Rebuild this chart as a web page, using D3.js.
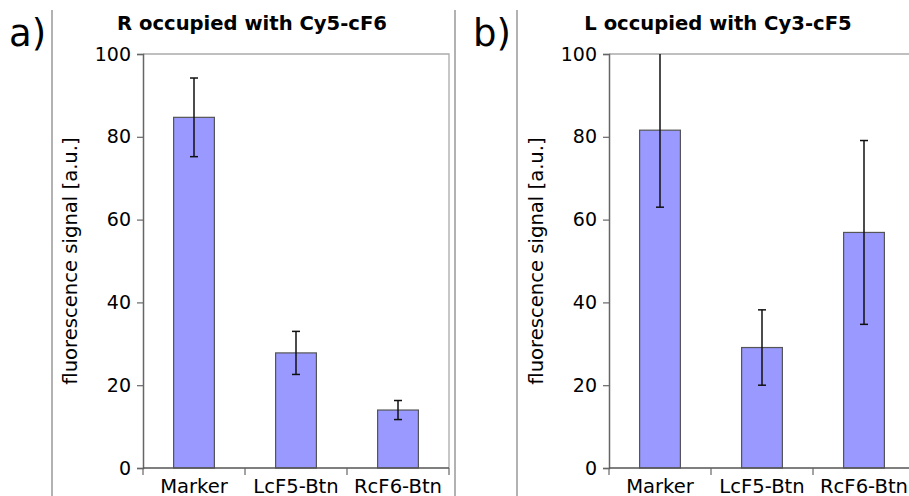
<!DOCTYPE html>
<html lang="en">
<head>
    <meta charset="UTF-8">
    <title>fluorescence signal</title>
    <script src="https://d3js.org/d3.v7.min.js"></script>
    <style>
        body { margin: 0; background: #fff; }
        svg text { font-family: "DejaVu Sans", sans-serif; fill: #000; }
    </style>
</head>
<body>
<svg width="909" height="496"></svg>
<script>
    // data
    var categories = ["Marker", "LcF5-Btn", "RcF6-Btn"];
    var yTicks = [0, 20, 40, 60, 80, 100];

    var titleA = "R occupied with Cy5-cF6";
    var valuesA = [84.7, 27.8, 14.0];
    var errorsA = [9.5, 5.2, 2.3];

    var titleB = "L occupied with Cy3-cF5";
    var valuesB = [81.6, 29.1, 56.9];
    var errorsB = [18.6, 9.1, 22.2];

    var yLabel = "fluorescence signal [a.u.]";

    var svg = d3.select("svg");

    // panel separators
    [52, 455, 517].forEach(function (x) {
        svg.append("line")
            .attr("x1", x).attr("x2", x)
            .attr("y1", 10).attr("y2", 496)
            .attr("stroke", "#999").attr("stroke-width", 1.5);
    });

    function drawPanel(tag, tagX, left, title, values, errors) {
        var top = 54, bottom = 468, width = 306;
        var g = svg.append("g");

        var x = d3.scaleBand()
            .domain(categories)
            .range([left, left + width])
            .paddingInner(0.6)
            .paddingOuter(0.3);
        var y = d3.scaleLinear().domain([0, 100]).range([bottom, top]);
        var cx = function (i) { return x(categories[i]) + x.bandwidth() / 2; };

        // panel letter
        g.append("text")
            .attr("x", tagX).attr("y", 46)
            .style("font-size", "37px")
            .text(tag);

        // title
        g.append("text")
            .attr("x", left + 109).attr("y", 30)
            .attr("text-anchor", "middle")
            .style("font-size", "19.6px")
            .style("font-weight", "bold")
            .text(title);

        // top and right frame
        g.append("path")
            .attr("d", "M" + left + "," + top + "H" + (left + width) + "V" + bottom)
            .attr("fill", "none")
            .attr("stroke", "#aaa").attr("stroke-width", 1.3);

        // bars
        g.selectAll("rect.bar")
            .data(values)
            .enter()
            .append("rect")
            .attr("class", "bar")
            .attr("x", function (d, i) { return x(categories[i]); })
            .attr("y", function (d) { return y(d); })
            .attr("width", x.bandwidth())
            .attr("height", function (d) { return bottom - y(d); })
            .attr("fill", "#9999ff")
            .attr("stroke", "#555")
            .attr("stroke-width", 1.2);

        // error bars (whisker clipped at 100, no cap there)
        var eb = g.selectAll("g.err")
            .data(values)
            .enter()
            .append("g")
            .attr("class", "err");
        eb.append("line")
            .attr("x1", function (d, i) { return cx(i); })
            .attr("x2", function (d, i) { return cx(i); })
            .attr("y1", function (d, i) { return y(Math.min(100, d + errors[i])); })
            .attr("y2", function (d, i) { return y(d - errors[i]); })
            .attr("stroke", "#111").attr("stroke-width", 1.5);
        eb.append("line")
            .attr("x1", function (d, i) { return cx(i) - 4; })
            .attr("x2", function (d, i) { return cx(i) + 4; })
            .attr("y1", function (d, i) { return y(d - errors[i]); })
            .attr("y2", function (d, i) { return y(d - errors[i]); })
            .attr("stroke", "#111").attr("stroke-width", 1.5);
        eb.append("line")
            .attr("x1", function (d, i) { return cx(i) - 4; })
            .attr("x2", function (d, i) { return cx(i) + 4; })
            .attr("y1", function (d, i) { return y(d + errors[i]); })
            .attr("y2", function (d, i) { return y(d + errors[i]); })
            .attr("stroke", function (d, i) { return d + errors[i] <= 100 ? "#111" : "none"; })
            .attr("stroke-width", 1.5);

        // y axis
        var ya = g.append("g")
            .attr("transform", "translate(" + left + ",0)")
            .call(d3.axisLeft(y).tickValues(yTicks).tickSize(6).tickPadding(6));
        ya.select(".domain").attr("stroke", "#666").attr("stroke-width", 1.5);
        ya.selectAll(".tick line").attr("stroke", "#666").attr("stroke-width", 1.2);
        ya.selectAll(".tick text")
            .style("font-size", "19px")
            .style("font-family", "DejaVu Sans")
            .attr("fill", "#000");

        // x axis: ticks on band edges
        var xa = g.append("g")
            .attr("transform", "translate(0," + bottom + ")");
        xa.append("line")
            .attr("x1", left).attr("x2", left + width)
            .attr("stroke", "#555").attr("stroke-width", 1.5);
        var edges = [0, 1, 2, 3].map(function (k) { return left + k * x.step(); });
        xa.selectAll("line.tk")
            .data(edges)
            .enter()
            .append("line")
            .attr("class", "tk")
            .attr("x1", function (d) { return d; })
            .attr("x2", function (d) { return d; })
            .attr("y1", 0).attr("y2", 7)
            .attr("stroke", "#666").attr("stroke-width", 1.2);
        xa.selectAll("text")
            .data(categories)
            .enter()
            .append("text")
            .attr("x", function (d) { return x(d) + x.bandwidth() / 2; })
            .attr("y", 25)
            .attr("text-anchor", "middle")
            .style("font-size", "19.6px")
            .text(function (d) { return d; });

        // y label
        g.append("text")
            .attr("transform", "translate(" + (left - 66) + "," + ((top + bottom) / 2) + ") rotate(-90)")
            .attr("text-anchor", "middle")
            .style("font-size", "19.6px")
            .text(yLabel);
    }

    drawPanel("a)", 9, 143, titleA, valuesA, errorsA);
    drawPanel("b)", 473, 609, titleB, valuesB, errorsB);
</script>
</body>
</html>
